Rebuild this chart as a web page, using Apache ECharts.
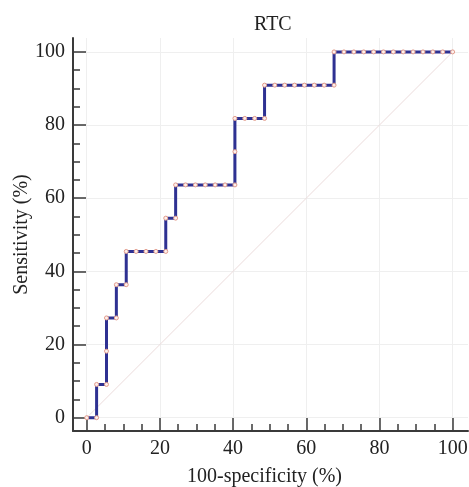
<!DOCTYPE html>
<html>
<head>
<meta charset="utf-8">
<script src="https://cdn.jsdelivr.net/npm/echarts@6/dist/echarts.min.js"></script>
<style>html,body{margin:0;padding:0;background:#fff}#c{width:469px;height:487px}</style>
</head>
<body>
<div id="c"></div>
<script>
// ROC curve points: 100-specificity (%) and sensitivity (%)
var fpr = [0, 2.7, 2.7, 5.4, 5.4, 5.4, 8.1, 8.1, 10.8, 10.8,
  13.5, 16.2, 18.9, 21.6, 21.6, 24.3, 24.3,
  27.0, 29.7, 32.4, 35.1, 37.8, 40.5, 40.5, 40.5,
  43.2, 45.9, 48.6, 48.6,
  51.4, 54.1, 56.8, 59.5, 62.2, 64.9, 67.6, 67.6,
  70.3, 73.0, 75.7, 78.4, 81.1, 83.8, 86.5, 89.2, 91.9, 94.6, 97.3, 100];
var tpr = [0, 0, 9.09, 9.09, 18.18, 27.27, 27.27, 36.36, 36.36, 45.45,
  45.45, 45.45, 45.45, 45.45, 54.55, 54.55, 63.64,
  63.64, 63.64, 63.64, 63.64, 63.64, 63.64, 72.73, 81.82,
  81.82, 81.82, 81.82, 90.91,
  90.91, 90.91, 90.91, 90.91, 90.91, 90.91, 90.91, 100,
  100, 100, 100, 100, 100, 100, 100, 100, 100, 100, 100, 100];
var diagX = [0, 100];
var diagY = [0, 100];
var majorTicks = [0, 20, 40, 60, 80, 100];
var minorTicks = [5, 10, 15, 25, 30, 35, 45, 50, 55, 65, 70, 75, 85, 90, 95];
var titleText = 'RTC';
var xName = '100-specificity (%)';
var yName = 'Sensitivity (%)';

var rocData = fpr.map(function (x, i) { return [x, tpr[i]]; });
var diagData = diagX.map(function (x, i) { return [x, diagY[i]]; });

var font = 'Liberation Serif';
var axisColor = '#3a3a3a';

function mainAxis(isX) {
  return {
    type: 'value',
    position: isX ? 'bottom' : 'left',
    min: isX ? -3.75 : -3.64,
    max: isX ? 104.2 : 103.8,
    name: isX ? xName : yName,
    nameLocation: 'middle',
    nameGap: isX ? 36 : 41,
    nameMoveOverlap: false,
    nameTextStyle: { fontFamily: font, fontSize: 20, color: '#222', padding: isX ? [0, 12, 0, 0] : 0 },
    axisLine: { show: true, onZero: false, lineStyle: { color: axisColor, width: 2 } },
    axisTick: { show: true, inside: true, length: 13, customValues: majorTicks, lineStyle: { color: axisColor, width: 1.5 } },
    axisLabel: { show: true, margin: 8, customValues: majorTicks, fontFamily: font, fontSize: 20, color: '#222' },
    splitLine: { show: true, lineStyle: { color: '#efefef', width: 1 } }
  };
}
function minorAxis(isX) {
  return {
    type: 'value',
    position: isX ? 'bottom' : 'left',
    min: isX ? -3.75 : -3.64,
    max: isX ? 104.2 : 103.8,
    axisLine: { show: false, onZero: false },
    axisTick: { show: true, inside: true, length: 7, customValues: minorTicks, lineStyle: { color: axisColor, width: 1.5 } },
    axisLabel: { show: false },
    splitLine: { show: false }
  };
}

var chart = echarts.init(document.getElementById('c'), null, { renderer: 'canvas' });
chart.setOption({
  animation: false,
  backgroundColor: '#fff',
  title: {
    text: titleText,
    left: 249,
    top: 10,
    textStyle: { fontFamily: font, fontSize: 20, fontWeight: 'normal', color: '#222' }
  },
  grid: { left: 73, right: 1, top: 38, bottom: 56, containLabel: false, outerBoundsMode: 'none' },
  xAxis: [mainAxis(true), minorAxis(true)],
  yAxis: [mainAxis(false), minorAxis(false)],
  series: [
    {
      type: 'line',
      data: diagData,
      xAxisIndex: 0, yAxisIndex: 0,
      showSymbol: false,
      lineStyle: { color: '#ecdcdc', width: 1 },
      z: 1,
      silent: true
    },
    {
      type: 'line',
      data: rocData,
      xAxisIndex: 0, yAxisIndex: 0,
      showSymbol: true,
      showAllSymbol: true,
      symbol: 'circle',
      symbolSize: 4,
      lineStyle: { color: '#2e3192', width: 3 },
      itemStyle: { color: '#fdf0ec', borderColor: '#e39b8b', borderWidth: 1 },
      z: 3
    }
  ]
});
</script>
</body>
</html>
